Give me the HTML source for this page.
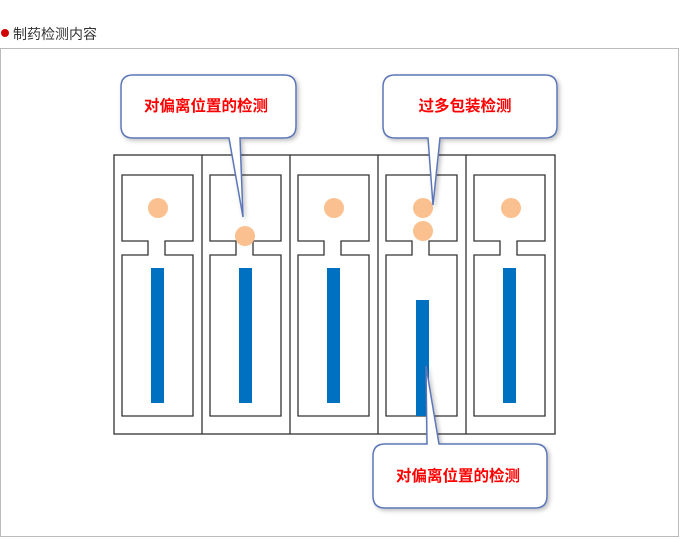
<!DOCTYPE html>
<html><head><meta charset="utf-8"><style>
body{margin:0;width:680px;height:539px;background:#fff;overflow:hidden;font-family:"Liberation Sans","Noto Sans CJK SC",sans-serif}
</style></head><body>
<svg width="680" height="539" xmlns="http://www.w3.org/2000/svg" style="position:absolute;left:0;top:0">
<defs>
<filter id="sh" x="-10%" y="-10%" width="130%" height="130%"><feDropShadow dx="2" dy="2" stdDeviation="2" flood-color="#000" flood-opacity="0.25"/></filter>
<g id="cell">
<path d="M122,175H193V241H165V255H193V416H122V255H148V241H122Z" fill="none" stroke="#333" stroke-width="1.3"/>
</g>
</defs>
<circle cx="5" cy="33" r="4" fill="#d00000"/>
<text x="13" y="39" font-size="14" fill="#333" font-family="Liberation Sans,Noto Sans CJK SC,sans-serif">制药检测内容</text>
<rect x="0.5" y="48.5" width="678" height="488" fill="none" stroke="#bbb" stroke-width="1"/>
<rect x="114" y="155" width="441" height="279" fill="none" stroke="#333" stroke-width="1.3"/>
<g stroke="#333" stroke-width="1.3"><line x1="202" y1="155" x2="202" y2="434"/><line x1="290" y1="155" x2="290" y2="434"/><line x1="378" y1="155" x2="378" y2="434"/><line x1="466" y1="155" x2="466" y2="434"/></g>
<use href="#cell"/><use href="#cell" x="88"/><use href="#cell" x="176"/><use href="#cell" x="264"/><use href="#cell" x="352"/>
<g fill="#0070c0"><rect x="151" y="268" width="13" height="135"/><rect x="239" y="268" width="13" height="135"/><rect x="327" y="268" width="13" height="135"/><rect x="416" y="300" width="13" height="116"/><rect x="503" y="268" width="13" height="135"/></g>
<g fill="#fac08f"><circle cx="158" cy="208" r="10"/><circle cx="245" cy="236" r="10"/><circle cx="334" cy="208" r="10"/><circle cx="423" cy="208" r="10"/><circle cx="423" cy="231" r="10"/><circle cx="511" cy="208" r="10"/></g>
<g fill="#fff" stroke="#5b76b8" stroke-width="1.5" filter="url(#sh)">
<path d="M133,75H284Q296,75 296,87V126Q296,138 284,138H240L243,217L229,138H133Q121,138 121,126V87Q121,75 133,75Z"/>
<path d="M395,75H545Q557,75 557,87V126Q557,138 545,138H440L433,205L428,138H395Q383,138 383,126V87Q383,75 395,75Z"/>
<path d="M385,444H427L426,366L439,444H535Q547,444 547,456V496Q547,508 535,508H385Q373,508 373,496V456Q373,444 385,444Z"/>
</g>
<g fill="#ff0000" font-size="15.5" font-weight="bold" text-anchor="middle" font-family="Liberation Sans,Noto Sans CJK SC,sans-serif">
<text x="206" y="111">对偏离位置的检测</text>
<text x="465" y="111">过多包装检测</text>
<text x="458" y="481">对偏离位置的检测</text>
</g>
</svg>
</body></html>
